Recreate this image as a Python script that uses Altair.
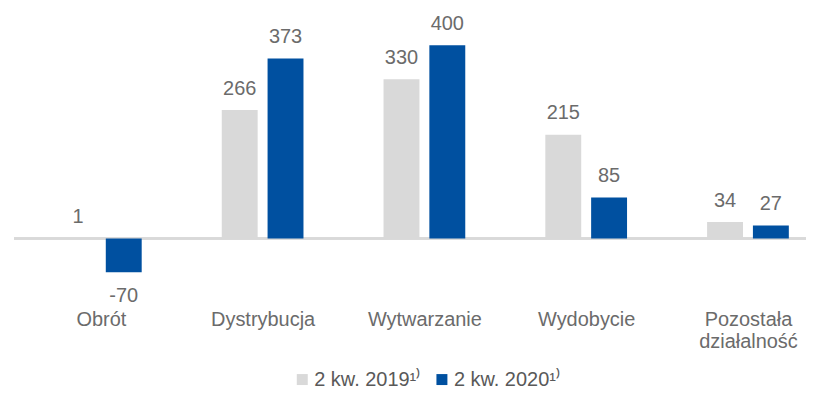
import altair as alt
import pandas as pd
import json

categories = ["Obrót", "Dystrybucja", "Wytwarzanie", "Wydobycie", "Pozostała\ndziałalność"]
series = ["2 kw. 2019¹⁾", "2 kw. 2020¹⁾"]
values_2019 = [1, 266, 330, 215, 34]
values_2020 = [-70, 373, 400, 85, 27]

GROUP_OFFSET = 0.1416

rows = []
for i, (c, a, b) in enumerate(zip(categories, values_2019, values_2020)):
    rows.append({"cat": c, "series": series[0], "v": a, "pos": i - GROUP_OFFSET})
    rows.append({"cat": c, "series": series[1], "v": b, "pos": i + GROUP_OFFSET})
df = pd.DataFrame(rows)

FONT = "Liberation Sans"
TXT = "#6b6b6b"

label_arrays = json.dumps([c.split("\n") for c in categories], ensure_ascii=False)

x = alt.X("pos:Q", title="",
          scale=alt.Scale(domain=[-0.506, 4.328], nice=False, zero=False),
          axis=alt.Axis(values=[0, 1, 2, 3, 4], domain=False, ticks=False,
                        grid=False, labelAngle=0, labelFontSize=20, labelFont=FONT,
                        labelColor=TXT, labelPadding=23, labelFlush=False,
                        labelOverlap=False, labelLineHeight=22,
                        labelExpr=label_arrays + "[datum.value]"))
y = alt.Y("v:Q", title="", scale=alt.Scale(domain=[-100, 466], nice=False, zero=False),
          axis=alt.Axis(labels=False, ticks=False, domain=False, grid=False,
                        labelPadding=0, minExtent=0, maxExtent=0))

base = alt.Chart(df)

bars = base.mark_bar(size=36, orient="vertical").encode(
    x=x, y=y,
    color=alt.Color("series:N",
                    scale=alt.Scale(domain=series, range=["#D9D9D9", "#0050A0"]),
                    legend=alt.Legend(title="", orient="none", direction="horizontal",
                                      legendX=279, legendY=357,
                                      symbolType="square", symbolSize=121,
                                      labelFontSize=20, labelFont=FONT,
                                      labelColor="#595959", columnPadding=10,
                                      labelOffset=2))
)

labels = base.transform_calculate(
    ly="datum.v >= 0 ? datum.v + 32 : datum.v - 61",
    lbl="'' + datum.v"
).mark_text(baseline="alphabetic", fontSize=20, font=FONT, color=TXT).encode(
    x=alt.X("pos:Q"), y=alt.Y("ly:Q"), text=alt.Text("lbl:N"))

zero = base.mark_rule(color="#D9D9D9", strokeWidth=2).encode(y=alt.datum(0))

chart = alt.layer(zero, bars, labels).properties(
    width=794, height=274,
).configure_view(strokeWidth=0)

chart.save("out.html", embed_options={"renderer": "svg", "actions": False})
